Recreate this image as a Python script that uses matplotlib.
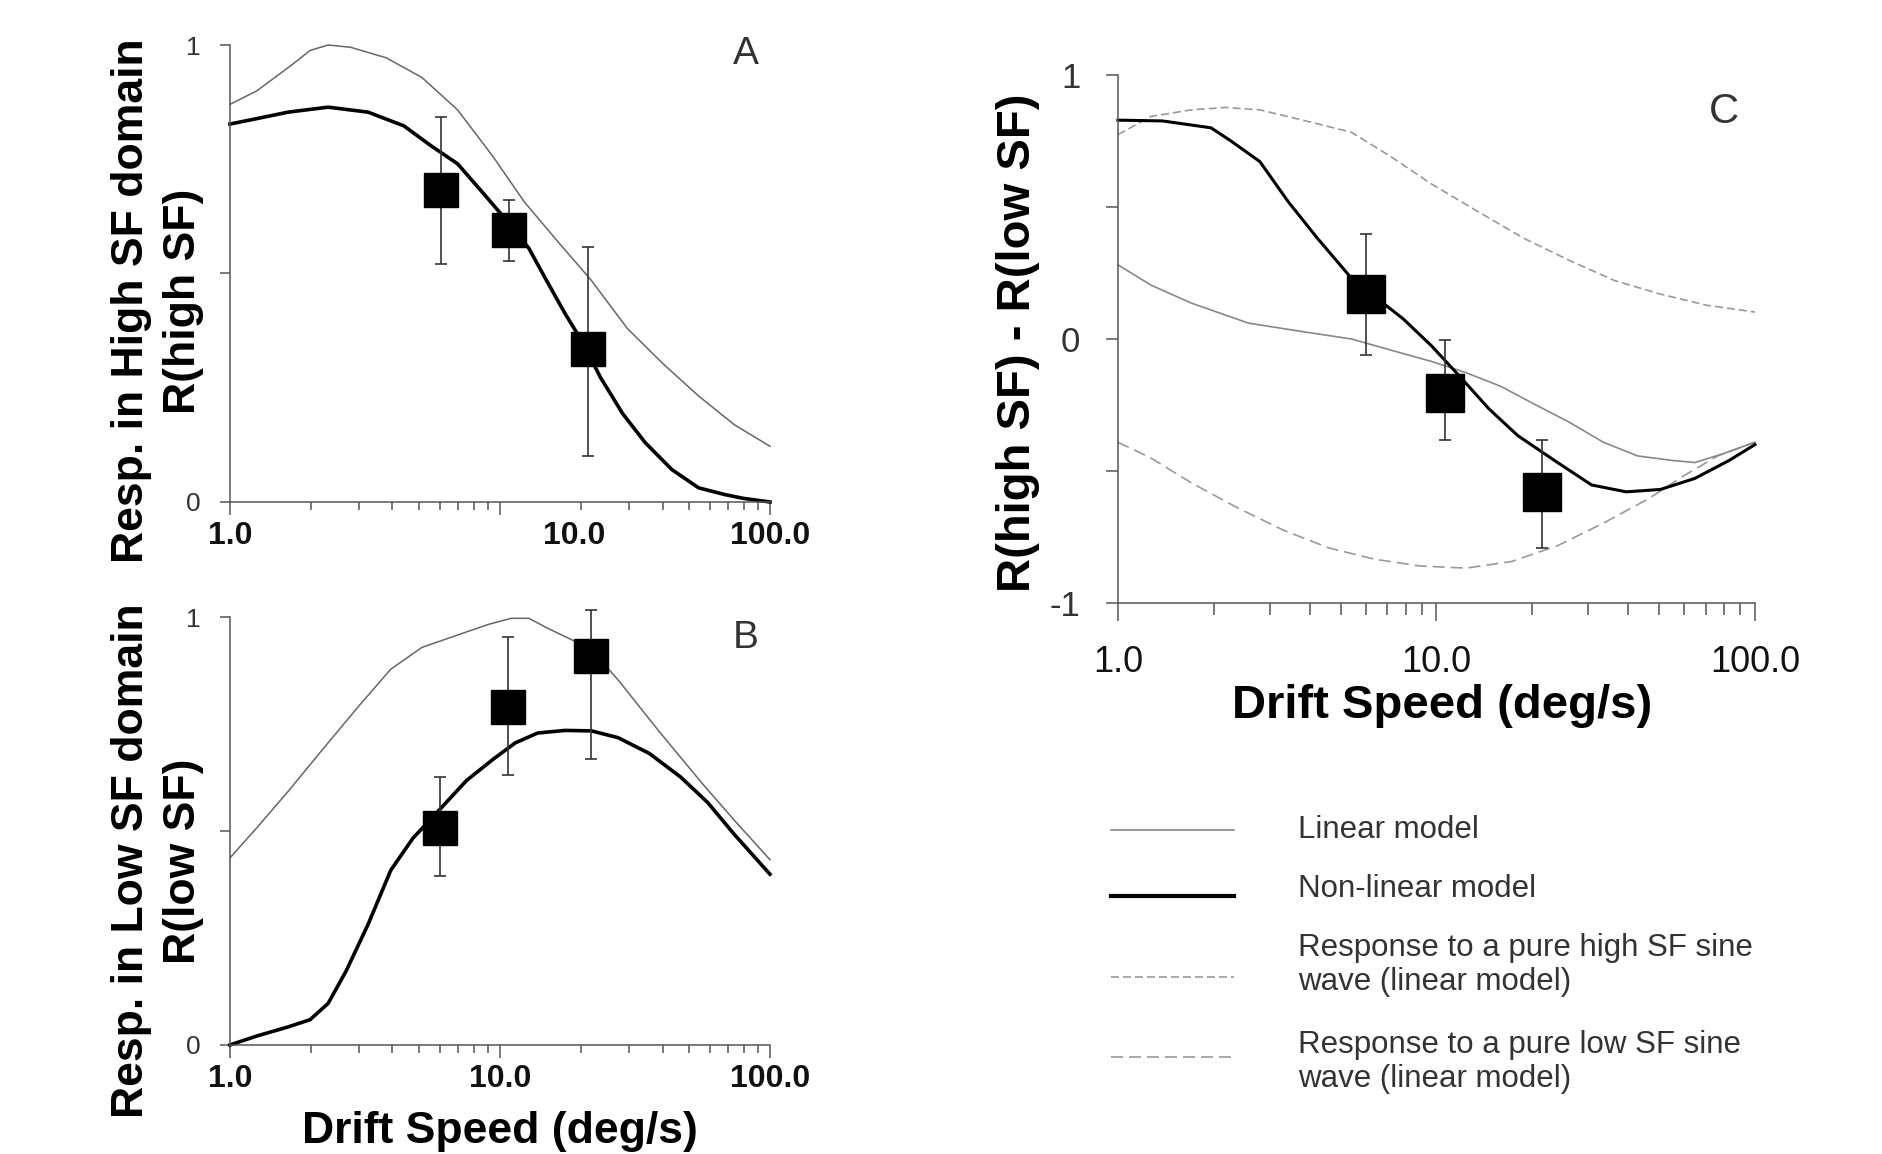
import numpy as np
import matplotlib.pyplot as plt
import matplotlib.transforms as mtransforms
from matplotlib.ticker import LogLocator, NullFormatter, FixedLocator
from matplotlib.lines import Line2D

plt.rcParams['font.family'] = ['Liberation Sans', 'DejaVu Sans']

# ---- panel A : response in high SF domain
a_lin_x = [1.0, 1.26, 1.70, 1.98, 2.31, 2.80, 3.79, 5.14, 6.97, 9.45, 12.3, 16.1, 21.8, 29.6, 40.1, 54.4, 73.8, 100]
a_lin_y = [0.870, 0.900, 0.957, 0.988, 1.000, 0.995, 0.972, 0.929, 0.858, 0.755, 0.657, 0.575, 0.485, 0.380, 0.303, 0.232, 0.169, 0.122]
a_nl_x = [1.0, 1.26, 1.64, 2.31, 3.25, 4.41, 5.54, 6.97, 8.75, 10.8, 12.8, 14.9, 17.4, 20.2, 23.6, 28.5, 34.5, 43.3, 54.4, 68.3, 79.6, 100]
a_nl_y = [0.827, 0.839, 0.853, 0.864, 0.853, 0.823, 0.780, 0.740, 0.673, 0.610, 0.555, 0.484, 0.413, 0.350, 0.272, 0.193, 0.130, 0.071, 0.031, 0.016, 0.008, 0.0]
a_pts_x = [6.03, 10.8, 21.2]
a_pts_y = [0.683, 0.596, 0.335]
a_pts_lo = [0.520, 0.528, 0.100]
a_pts_hi = [0.843, 0.661, 0.559]

# ---- panel B : response in low SF domain
b_lin_x = [1.0, 1.26, 1.64, 2.22, 3.02, 3.94, 5.14, 6.97, 9.09, 11.0, 12.8, 14.9, 18.7, 21.8, 27.4, 38.6, 56.5, 73.8, 100]
b_lin_y = [0.437, 0.508, 0.592, 0.693, 0.794, 0.878, 0.929, 0.958, 0.983, 0.997, 0.997, 0.975, 0.945, 0.924, 0.853, 0.735, 0.609, 0.525, 0.433]
b_nl_x = [1.0, 1.26, 1.64, 1.98, 2.31, 2.69, 3.25, 3.94, 4.76, 5.98, 7.52, 9.45, 11.4, 13.8, 17.4, 21.8, 27.4, 35.8, 46.7, 58.7, 73.8, 100]
b_nl_y = [0.0, 0.021, 0.042, 0.059, 0.097, 0.172, 0.282, 0.408, 0.483, 0.550, 0.618, 0.668, 0.706, 0.729, 0.735, 0.734, 0.718, 0.681, 0.626, 0.567, 0.492, 0.399]
b_pts_x = [5.98, 10.7, 21.7]
b_pts_y = [0.508, 0.790, 0.908]
b_pts_lo = [0.395, 0.630, 0.668]
b_pts_hi = [0.626, 0.954, 1.017]

# ---- panel C : R(high SF) - R(low SF)
c_nl_x = [1.0, 1.38, 1.96, 2.27, 2.79, 3.43, 4.22, 5.41, 6.38, 7.85, 9.65, 11.9, 14.6, 18.0, 24.0, 30.7, 39.4, 50.5, 64.8, 83.0, 100]
c_nl_y = [0.829, 0.826, 0.800, 0.749, 0.672, 0.519, 0.383, 0.230, 0.162, 0.077, -0.026, -0.145, -0.264, -0.366, -0.468, -0.553, -0.579, -0.570, -0.528, -0.460, -0.400]
c_lin_x = [1.0, 1.27, 1.70, 2.57, 3.89, 5.41, 7.23, 9.65, 12.4, 15.9, 20.3, 26.1, 33.4, 42.8, 54.9, 64.8, 79.7, 100]
c_lin_y = [0.281, 0.204, 0.136, 0.060, 0.026, 0.0, -0.043, -0.085, -0.128, -0.179, -0.247, -0.315, -0.391, -0.443, -0.460, -0.468, -0.434, -0.391]
c_hi_x = [1.0, 1.27, 1.70, 2.18, 2.79, 3.89, 5.41, 7.23, 9.65, 13.4, 18.7, 26.1, 36.3, 50.5, 70.4, 100]
c_hi_y = [0.774, 0.843, 0.868, 0.877, 0.868, 0.826, 0.783, 0.689, 0.587, 0.485, 0.383, 0.298, 0.221, 0.170, 0.128, 0.102]
c_lo_x = [1.0, 1.27, 1.70, 2.36, 3.29, 4.58, 6.38, 8.89, 12.4, 17.2, 24.0, 33.4, 46.5, 59.6, 76.4, 100]
c_lo_y = [-0.391, -0.451, -0.545, -0.638, -0.723, -0.791, -0.834, -0.860, -0.868, -0.843, -0.783, -0.698, -0.604, -0.519, -0.443, -0.391]
c_pts_x = [6.0, 10.6, 21.4]
c_pts_y = [0.170, -0.204, -0.579]
c_pts_lo = [-0.060, -0.383, -0.791]
c_pts_hi = [0.397, -0.005, -0.383]

legend_labels = ['Linear model', 'Non-linear model',
                 'Response to a pure high SF sine\nwave (linear model)',
                 'Response to a pure low SF sine\nwave (linear model)']

AXC = '#555555'


def setup(ax, ylim, yticks, yticklabels, xfont, yfont, xbold, xpad, ypad, xlen, ylen):
    ax.set_xscale('log')
    ax.set_xlim(1, 100)
    ax.set_ylim(*ylim)
    for s in ['top', 'right']:
        ax.spines[s].set_visible(False)
    for s in ['left', 'bottom']:
        ax.spines[s].set_color(AXC)
        ax.spines[s].set_linewidth(1.1)
    ax.xaxis.set_major_locator(FixedLocator([1, 10, 100]))
    ax.set_xticklabels(['1.0', '10.0', '100.0'], fontsize=xfont,
                       fontweight='bold' if xbold else 'normal', color='#111111')
    ax.xaxis.set_minor_locator(LogLocator(base=10, subs=range(2, 10)))
    ax.xaxis.set_minor_formatter(NullFormatter())
    ax.set_yticks(yticks)
    ax.set_yticklabels(yticklabels, fontsize=yfont, color='#333333')
    ax.tick_params(axis='x', which='major', direction='out', length=xlen, width=1.1, color=AXC, pad=xpad)
    ax.tick_params(axis='x', which='minor', direction='out', length=xlen * 0.65, width=1.1, color=AXC)
    ax.tick_params(axis='y', direction='out', length=ylen, width=1.1, color=AXC, pad=ypad)


def points(ax, x, y, lo, hi, ms):
    yerr = [np.array(y) - np.array(lo), np.array(hi) - np.array(y)]
    ax.errorbar(x, y, yerr=yerr, fmt='none', ecolor='#333333', elinewidth=1.2,
                capsize=4, capthick=1.2, zorder=3, clip_on=False)
    ax.plot(x, y, 's', color='black', markersize=ms, zorder=4, clip_on=False)


fig = plt.figure(figsize=(18.83, 11.54), dpi=100)

# panel A
axA = fig.add_axes([0.1221, 0.5650, 0.2868, 0.3960])
setup(axA, (0, 1), [0, 0.5, 1], ['0', '', '1'], 23, 19, True, 5, 14, 9, 7)
axA.plot(a_lin_x, a_lin_y, color='#666666', lw=1.1, clip_on=False)
axA.plot(a_nl_x, a_nl_y, color='black', lw=2.6, clip_on=False)
points(axA, a_pts_x, a_pts_y, a_pts_lo, a_pts_hi, 24)
axA.text(0.955, 0.98, 'A', transform=axA.transAxes, fontsize=28, color='#333333', ha='center', va='center')
# the "10.0" label of panel A sits to the right of its tick in the original
shift = mtransforms.ScaledTranslation(0.74, 0, fig.dpi_scale_trans)
lab = axA.xaxis.get_majorticklabels()[1]
lab.set_transform(lab.get_transform() + shift)

# panel B
axB = fig.add_axes([0.1221, 0.0945, 0.2868, 0.3708])
setup(axB, (0, 1), [0, 0.5, 1], ['0', '', '1'], 23, 19, True, 5, 14, 9, 7)
axB.plot(b_lin_x, b_lin_y, color='#666666', lw=1.1, clip_on=False)
axB.plot(b_nl_x, b_nl_y, color='black', lw=2.6, clip_on=False)
points(axB, b_pts_x, b_pts_y, b_pts_lo, b_pts_hi, 24)
axB.text(0.955, 0.95, 'B', transform=axB.transAxes, fontsize=28, color='#333333', ha='center', va='center')

# panel C
axC = fig.add_axes([0.5937, 0.4775, 0.3383, 0.4575])
setup(axC, (-1, 1), [-1, -0.5, 0, 0.5, 1], ['-1', '', '0', '', '1'], 26, 25, False, 17, 18, 13, 9)
axC.plot(c_hi_x, c_hi_y, color='#999999', lw=1.2, dashes=(4.8, 2.4), clip_on=False)
axC.plot(c_lo_x, c_lo_y, color='#999999', lw=1.2, dashes=(7.2, 3.6), clip_on=False)
axC.plot(c_lin_x, c_lin_y, color='#888888', lw=1.2, clip_on=False)
axC.plot(c_nl_x, c_nl_y, color='black', lw=2.2, clip_on=False)
points(axC, c_pts_x, c_pts_y, c_pts_lo, c_pts_hi, 27)
axC.text(0.951, 0.93, 'C', transform=axC.transAxes, fontsize=30, color='#333333', ha='center', va='center')

# axis titles
W, H = 1883.0, 1154.0
fig.text(132 / W, 1 - 301 / H, 'Resp. in High SF domain', rotation=90, ha='center', va='center', fontsize=32, fontweight='bold')
fig.text(184 / W, 1 - 301 / H, 'R(high SF)', rotation=90, ha='center', va='center', fontsize=32, fontweight='bold')
fig.text(132 / W, 1 - 861 / H, 'Resp. in Low SF domain', rotation=90, ha='center', va='center', fontsize=32, fontweight='bold')
fig.text(184 / W, 1 - 861 / H, 'R(low SF)', rotation=90, ha='center', va='center', fontsize=32, fontweight='bold')
fig.text(500 / W, 1 - 1132 / H, 'Drift Speed (deg/s)', ha='center', va='center', fontsize=32, fontweight='bold')
fig.text(1018 / W, 1 - 343 / H, 'R(high SF) - R(low SF)', rotation=90, ha='center', va='center', fontsize=34, fontweight='bold')
fig.text(1442 / W, 1 - 706 / H, 'Drift Speed (deg/s)', ha='center', va='center', fontsize=34, fontweight='bold')

# legend
leg_y = [830, 896, 977, 1057]
txt_y = [830, 889, 965, 1062]
leg_styles = [dict(color='#888888', lw=1.2),
              dict(color='black', lw=3.0),
              dict(color='#999999', lw=1.2, dashes=(4.8, 2.4)),
              dict(color='#999999', lw=1.2, dashes=(7.2, 3.6))]
for ly, ty, lab_txt, st in zip(leg_y, txt_y, legend_labels, leg_styles):
    fig.add_artist(Line2D([1111 / W, 1234 / W], [1 - ly / H, 1 - ly / H], transform=fig.transFigure, **st))
    fig.text(1298 / W, 1 - ty / H, lab_txt, ha='left', va='center', fontsize=22.5, color='#333333', linespacing=1.15)

fig.savefig('out.png', dpi=100, facecolor='white')
